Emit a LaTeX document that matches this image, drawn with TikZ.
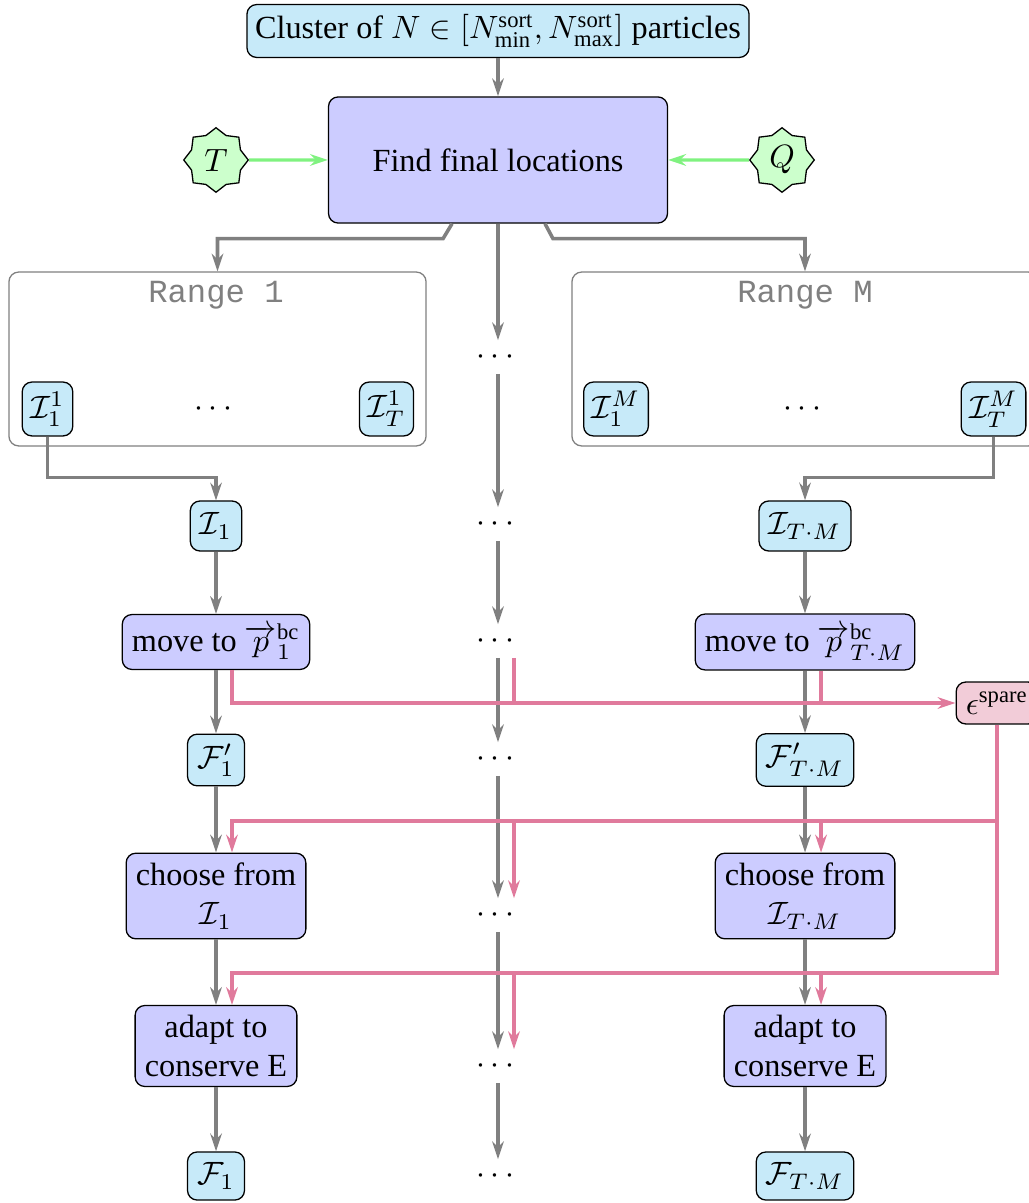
\documentclass[tikz,border=0pt]{standalone}
\usepackage{amsmath}
\usepackage[no-math]{fontspec}
\setmainfont{Liberation Serif}
\setmonofont{Liberation Mono}
\usetikzlibrary{arrows.meta,shapes.geometric,calc}
\definecolor{infoblue}{RGB}{199,234,249}
\definecolor{stepblue}{RGB}{204,204,255}
\definecolor{paramgreen}{RGB}{204,255,204}
\definecolor{feedgreen}{RGB}{128,242,128}
\definecolor{sparepink}{RGB}{242,204,216}
\definecolor{spareline}{RGB}{224,122,156}

\begin{document}
\begin{tikzpicture}[x=0.31pt,y=-0.31pt,font=\fontsize{10}{12}\selectfont,
  box/.style={draw,rounded corners=3pt,inner sep=3pt,align=center,line width=.4pt},
  data/.style={box,fill=infoblue,minimum height=15.5pt},
  work/.style={box,fill=stepblue,minimum height=16.7pt},
  param/.style={draw,star,star points=8,star point ratio=1.22,fill=paramgreen,inner sep=1pt,minimum size=20pt,line width=.4pt},
  rangebox/.style={draw=gray,rounded corners=3pt,minimum height=53.9pt,line width=.4pt},
  dots/.style={inner sep=0pt,minimum height=10pt},
  flow/.style={draw=gray,line width=1.1pt,-{Stealth[length=5.5pt,width=3.6pt]}},
  feed/.style={draw=feedgreen,line width=1pt,-{Stealth[length=5.5pt,width=3.6pt]}},
  spare/.style={draw=spareline,line width=1pt,-{Stealth[length=5.5pt,width=3.6pt]}},
  sparebus/.style={draw=spareline,line width=1pt}]
\path[use as bounding box] (0,0) rectangle (1028,1203);
\node[data,minimum height=16.4pt,inner sep=2.5pt] (cluster) at (498,31) {Cluster of $N\in[N^{\text{sort}}_{\text{min}},N^{\text{sort}}_{\text{max}}]$ particles};
\node[box,fill=stepblue,minimum width=105.1pt,minimum height=39.1pt] (find) at (498,160) {Find final locations};
\node[param] (T) at (216,160) {$T$};
\node[param] (Q) at (782,160) {$Q$};
\node[rangebox,minimum width=129.3pt] (range1) at (217.5,359) {};
\node[rangebox,minimum width=144.5pt] (rangeM) at (805,359) {};
\node[text=gray,font=\fontsize{10}{12}\selectfont\ttfamily] (label1) at (216,295) {Range 1};
\node[text=gray,font=\fontsize{10}{12}\selectfont\ttfamily] (labelM) at (805,295) {Range M};
\node[data,minimum height=16.7pt,inner sep=2.5pt] (I11) at (47.5,409) {$\mathcal{I}^1_1$};
\node[dots] (r1dots) at (216,409) {$\cdots$};
\node[data,minimum height=16.7pt,inner sep=2.5pt] (I1T) at (386.5,409) {$\mathcal{I}^1_T$};
\node[data,minimum height=16.7pt,inner sep=2.5pt] (IM1) at (616,409) {$\mathcal{I}^M_1$};
\node[dots] (rMdots) at (805,409) {$\cdots$};
\node[data,minimum height=16.7pt,inner sep=2.5pt] (IMT) at (993.5,409) {$\mathcal{I}^M_T$};
\node[data] (I1) at (216,526) {$\mathcal{I}_1$};
\node[data] (ITM) at (805,526) {$\mathcal{I}_{T\cdot M}$};
\node[work] (move1) at (216,642) {move to $\overrightarrow{p}^{\text{bc}}_1$};
\node[work] (moveTM) at (805,642) {move to $\overrightarrow{p}^{\text{bc}}_{T\cdot M}$};
\node[data] (Fp1) at (216,760) {$\mathcal{F}'_1$};
\node[data] (FpTM) at (805,760) {$\mathcal{F}'_{T\cdot M}$};
\node[work,minimum height=26.4pt] (choose1) at (216,896) {choose from\\$\mathcal{I}_1$};
\node[work,minimum height=26.4pt] (chooseTM) at (805,896) {choose from\\$\mathcal{I}_{T\cdot M}$};
\node[work,minimum height=25.1pt] (adapt1) at (216,1046) {adapt to\\conserve E};
\node[work,minimum height=25.1pt] (adaptTM) at (805,1046) {adapt to\\conserve E};
\node[data,minimum height=14.9pt] (F1) at (216,1176) {$\mathcal{F}_1$};
\node[data,minimum height=14.9pt] (FTM) at (805,1176) {$\mathcal{F}_{T\cdot M}$};
\node[box,fill=sparepink,minimum height=13pt] (eps) at (997,703) {$\epsilon^{\text{spare}}$};
\node[dots] (d1) at (498,357) {$\cdots$};
\node[dots] (d2) at (498,524) {$\cdots$};
\node[dots] (d3) at (498,641) {$\cdots$};
\node[dots] (d4) at (498,759) {$\cdots$};
\node[dots] (d5) at (498,915) {$\cdots$};
\node[dots] (d6) at (498,1066) {$\cdots$};
\node[dots] (d7) at (498,1176) {$\cdots$};
\coordinate (bus1) at (0,821);
\coordinate (bus2) at (0,973);
\coordinate (out1) at ($(move1.south)+(16,0)$);
\coordinate (outd) at ($(d3.south)+(16,0)$);
\coordinate (outTM) at ($(moveTM.south)+(16,0)$);
\coordinate (inc1) at ($(choose1.north)+(16,0)$);
\coordinate (incd) at ($(d5.north)+(16,0)$);
\coordinate (incTM) at ($(chooseTM.north)+(16,0)$);
\coordinate (ina1) at ($(adapt1.north)+(16,0)$);
\coordinate (inad) at ($(d6.north)+(16,0)$);
\coordinate (inaTM) at ($(adaptTM.north)+(16,0)$);
\draw[flow] (cluster) -- (find);
\draw[feed] (T) -- (find);
\draw[feed] (Q) -- (find);
\draw[flow] ($(find.south)+(-46,0)$) -- ++(-9,15) -| (range1.north);
\draw[flow] ($(find.south)+(47,0)$) -- ++(8,15) -| (rangeM.north);
\draw[flow] (find) -- (d1);
\draw[flow] (I11.south) -- ++(0,41) -| (I1.north);
\draw[flow] (IMT.south) -- ++(0,41) -| (ITM.north);
\draw[flow] (I1) -- (move1);
\draw[flow] (move1) -- (Fp1);
\draw[flow] (Fp1) -- (choose1);
\draw[flow] (choose1) -- (adapt1);
\draw[flow] (adapt1) -- (F1);
\draw[flow] (ITM) -- (moveTM);
\draw[flow] (moveTM) -- (FpTM);
\draw[flow] (FpTM) -- (chooseTM);
\draw[flow] (chooseTM) -- (adaptTM);
\draw[flow] (adaptTM) -- (FTM);
\draw[flow] (d1) -- (d2);
\draw[flow] (d2) -- (d3);
\draw[flow] (d3) -- (d4);
\draw[flow] (d4) -- (d5);
\draw[flow] (d5) -- (d6);
\draw[flow] (d6) -- (d7);
\draw[spare] (out1) |- (eps.west);
\draw[sparebus] (outd) -- (outd |- eps.west);
\draw[sparebus] (outTM) -- (outTM |- eps.west);
\draw[spare] (eps.south) -- (eps.south |- bus1) -| (inc1);
\draw[spare] (incd |- bus1) -- (incd);
\draw[spare] (incTM |- bus1) -- (incTM);
\draw[spare] (eps.south |- bus1) -- (eps.south |- bus2) -| (ina1);
\draw[spare] (inad |- bus2) -- (inad);
\draw[spare] (inaTM |- bus2) -- (inaTM);
\end{tikzpicture}
\end{document}
